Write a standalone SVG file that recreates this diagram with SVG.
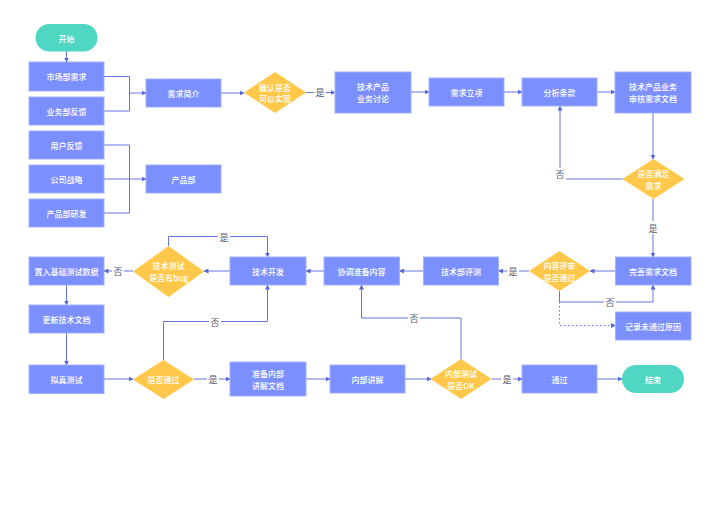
<svg xmlns="http://www.w3.org/2000/svg" width="720" height="520" viewBox="0 0 720 520">
<defs>
<marker id="ah" markerWidth="5" markerHeight="5" refX="4.5" refY="2.5" orient="auto" markerUnits="userSpaceOnUse">
<path d="M0,0 L5,2.5 L0,5 Z" fill="#5566D6"/>
</marker>
</defs>
<style>
.box{fill:#7B8FFF;stroke:#A3B1FF;stroke-width:1}
.dia{fill:#FFC84A}
.pill{fill:#4FD7C4}
.t{font-family:"Noto Sans CJK SC","Noto Sans",sans-serif;font-size:8px;font-weight:500;fill:#FFFFFF;text-anchor:middle;dominant-baseline:central}
.c{fill:none;stroke:#6674DB;stroke-width:1}
.lb{font-family:"Noto Sans CJK SC","Noto Sans",sans-serif;font-size:9px;fill:#555A70;text-anchor:middle;dominant-baseline:central}
.bg{fill:#FFFFFF}
</style>
<rect width="720" height="520" fill="#FFFFFF"/>

<g id="connectors">
<path class="c" d="M66.5,51 V62" marker-end="url(#ah)"/>
<path class="c" d="M104,76.5 H129.5 V111 H104"/>
<path class="c" d="M129.5,93 H146" marker-end="url(#ah)"/>
<path class="c" d="M104,145 H129.5 V213 H104"/>
<path class="c" d="M104,179 H146" marker-end="url(#ah)"/>
<path class="c" d="M221,93 H244" marker-end="url(#ah)"/>
<path class="c" d="M306,92.5 H335" marker-end="url(#ah)"/>
<path class="c" d="M411,92 H429" marker-end="url(#ah)"/>
<path class="c" d="M504,92 H522" marker-end="url(#ah)"/>
<path class="c" d="M597,92 H615" marker-end="url(#ah)"/>
<path class="c" d="M653,113 V159" marker-end="url(#ah)"/>
<path class="c" d="M623,179 H560 V106" marker-end="url(#ah)"/>
<path class="c" d="M653,199 V257" marker-end="url(#ah)"/>
<path class="c" d="M615,271 H590" marker-end="url(#ah)"/>
<path class="c" d="M559.5,291 V302 H653 V285" marker-end="url(#ah)"/>
<path class="c" d="M559.5,302 V325.5 H615.5" stroke-dasharray="1.5,2.5" marker-end="url(#ah)"/>
<path class="c" d="M529,271 H498.5" marker-end="url(#ah)"/>
<path class="c" d="M423.5,271 H399.5" marker-end="url(#ah)"/>
<path class="c" d="M324,271 H306" marker-end="url(#ah)"/>
<path class="c" d="M230,271 H204" marker-end="url(#ah)"/>
<path class="c" d="M168.5,246 V236.5 H267.5 V257" marker-end="url(#ah)"/>
<path class="c" d="M133,271 H104" marker-end="url(#ah)"/>
<path class="c" d="M66.5,285 V305" marker-end="url(#ah)"/>
<path class="c" d="M66.5,333 V365" marker-end="url(#ah)"/>
<path class="c" d="M104,379 H133" marker-end="url(#ah)"/>
<path class="c" d="M163.5,360 V321.5 H267.5 V285" marker-end="url(#ah)"/>
<path class="c" d="M194,379 H230" marker-end="url(#ah)"/>
<path class="c" d="M306,379 H330" marker-end="url(#ah)"/>
<path class="c" d="M405,379 H431" marker-end="url(#ah)"/>
<path class="c" d="M461,359 V318 H361.5 V285" marker-end="url(#ah)"/>
<path class="c" d="M491.5,379 H522" marker-end="url(#ah)"/>
<path class="c" d="M597,379 H622" marker-end="url(#ah)"/>
</g>

<g id="labels">
<rect class="bg" x="314" y="86" width="12" height="13"/><text class="lb" x="320" y="92.5">是</text>
<rect class="bg" x="554" y="168" width="12" height="13"/><text class="lb" x="560" y="174.5">否</text>
<rect class="bg" x="647" y="221" width="12" height="13"/><text class="lb" x="653" y="228">是</text>
<rect class="bg" x="604" y="296" width="12" height="13"/><text class="lb" x="610" y="302.5">否</text>
<rect class="bg" x="507" y="265" width="12" height="13"/><text class="lb" x="513" y="271.5">是</text>
<rect class="bg" x="218" y="230" width="12" height="13"/><text class="lb" x="224" y="237">是</text>
<rect class="bg" x="112" y="265" width="12" height="13"/><text class="lb" x="118" y="271.5">否</text>
<rect class="bg" x="209" y="315" width="12" height="13"/><text class="lb" x="215" y="322">否</text>
<rect class="bg" x="207" y="373" width="12" height="13"/><text class="lb" x="213" y="379.5">是</text>
<rect class="bg" x="408" y="312" width="12" height="13"/><text class="lb" x="414" y="318.5">否</text>
<rect class="bg" x="501" y="373" width="12" height="13"/><text class="lb" x="507" y="379.5">是</text>
</g>

<g id="start"><rect class="pill" x="35.5" y="24" width="62" height="27.5" rx="13.75"/><text class="t" x="66.5" y="38">开始</text></g>
<g id="n-market"><rect class="box" x="29" y="62" width="75" height="29"/><text class="t" x="66.5" y="76.5">市场部需求</text></g>
<g id="n-business"><rect class="box" x="29" y="97" width="75" height="28"/><text class="t" x="66.5" y="111">业务部反馈</text></g>
<g id="n-user"><rect class="box" x="29" y="131" width="75" height="28"/><text class="t" x="66.5" y="145">用户反馈</text></g>
<g id="n-strategy"><rect class="box" x="29" y="165" width="75" height="28"/><text class="t" x="66.5" y="179">公司战略</text></g>
<g id="n-rd"><rect class="box" x="29" y="199" width="75" height="28"/><text class="t" x="66.5" y="213">产品部研发</text></g>
<g id="n-intro"><rect class="box" x="146" y="79" width="75" height="28"/><text class="t" x="183.5" y="93">需求简介</text></g>
<g id="n-product"><rect class="box" x="146" y="165" width="75" height="28"/><text class="t" x="183.5" y="179">产品部</text></g>
<g id="d-feasible"><polygon class="dia" points="275,72 306,92.5 275,113 244,92.5"/><text class="t" x="275" y="87">确认是否</text><text class="t" x="275" y="98.5">可以实现</text></g>
<g id="n-discuss"><rect class="box" x="335" y="72" width="76" height="41"/><text class="t" x="373" y="86.5">技术产品</text><text class="t" x="373" y="98.5">业务讨论</text></g>
<g id="n-approve"><rect class="box" x="429" y="78" width="75" height="28"/><text class="t" x="466.5" y="92">需求立项</text></g>
<g id="n-analyze"><rect class="box" x="522" y="78" width="75" height="28"/><text class="t" x="559.5" y="92">分析条款</text></g>
<g id="n-review"><rect class="box" x="615" y="72" width="76" height="41"/><text class="t" x="653" y="86.5">技术产品业务</text><text class="t" x="653" y="98.5">审核需求文档</text></g>
<g id="d-meet"><polygon class="dia" points="653.5,159 684.5,179 653.5,199 622.5,179"/><text class="t" x="653.5" y="173.5">是否满足</text><text class="t" x="653.5" y="185">需求</text></g>
<g id="n-perfect"><rect class="box" x="615.5" y="257" width="75.5" height="28"/><text class="t" x="653" y="271">完善需求文档</text></g>
<g id="d-content"><polygon class="dia" points="559.5,251 590,271 559.5,291 529,271"/><text class="t" x="559.5" y="265.5">内容评审</text><text class="t" x="559.5" y="277">是否通过</text></g>
<g id="n-record"><rect class="box" x="615.5" y="312" width="75.5" height="28"/><text class="t" x="653" y="326">记录未通过原因</text></g>
<g id="n-techeval"><rect class="box" x="423.5" y="257" width="75" height="28"/><text class="t" x="461" y="271">技术部评测</text></g>
<g id="n-coord"><rect class="box" x="324" y="257" width="75.5" height="28"/><text class="t" x="361.5" y="271">协调准备内容</text></g>
<g id="n-dev"><rect class="box" x="230" y="257" width="76" height="28"/><text class="t" x="268" y="271">技术开发</text></g>
<g id="d-bug"><polygon class="dia" points="168.5,246 204,271.5 168.5,297 133,271.5"/><text class="t" x="168.5" y="265.5">技术测试</text><text class="t" x="168.5" y="277.5">是否有bug</text></g>
<g id="n-basedata"><rect class="box" x="29" y="257" width="75" height="28"/><text class="t" x="66.5" y="271">置入基础测试数据</text></g>
<g id="n-updoc"><rect class="box" x="29" y="305" width="75" height="28"/><text class="t" x="66.5" y="319">更新技术文档</text></g>
<g id="n-sim"><rect class="box" x="29" y="365" width="75" height="28.5"/><text class="t" x="66.5" y="379">拟真测试</text></g>
<g id="d-pass"><polygon class="dia" points="163.5,360 194,379.5 163.5,399 133,379.5"/><text class="t" x="163.5" y="379.5">是否通过</text></g>
<g id="n-prepdoc"><rect class="box" x="230" y="362" width="76" height="34"/><text class="t" x="268" y="373">准备内部</text><text class="t" x="268" y="385">讲解文档</text></g>
<g id="n-explain"><rect class="box" x="330" y="365" width="75" height="28"/><text class="t" x="367.5" y="379">内部讲解</text></g>
<g id="d-ok"><polygon class="dia" points="461,359 491.5,379 461,399 430.5,379"/><text class="t" x="461" y="373.5">内部测试</text><text class="t" x="461" y="385">是否OK</text></g>
<g id="n-passed"><rect class="box" x="522" y="365" width="75" height="28"/><text class="t" x="559.5" y="379">通过</text></g>
<g id="end"><rect class="pill" x="622" y="365" width="62" height="28" rx="14"/><text class="t" x="653" y="379">结束</text></g>
</svg>
